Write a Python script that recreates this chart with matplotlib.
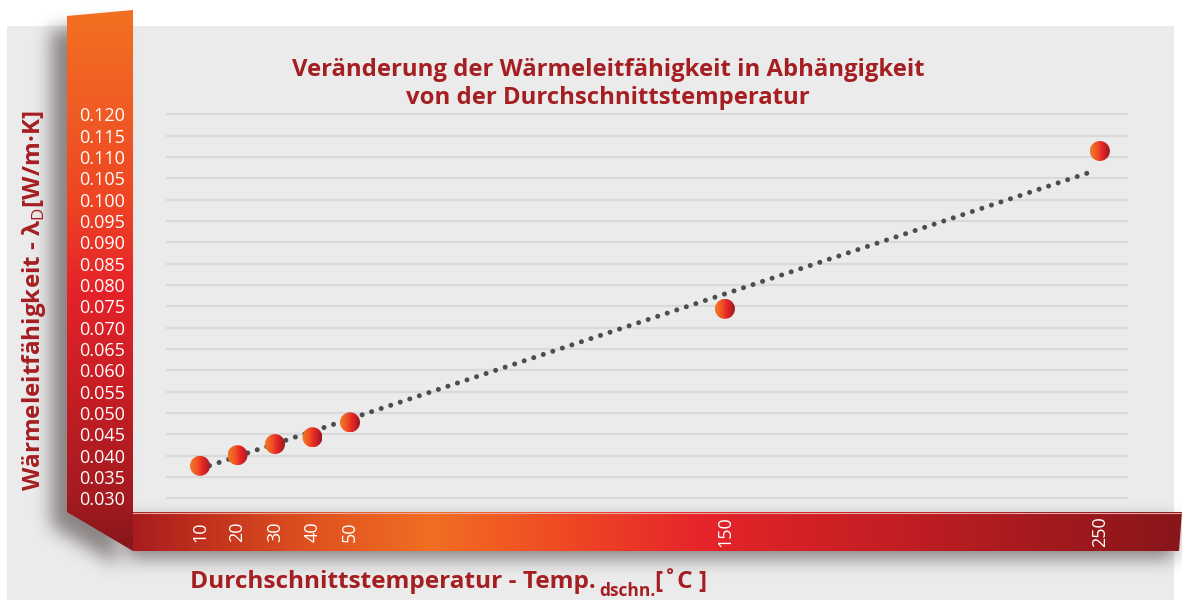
import matplotlib
matplotlib.use('Agg')
import matplotlib.pyplot as plt
import numpy as np
from matplotlib.patches import Polygon, Rectangle, Ellipse
from matplotlib.path import Path
from matplotlib.colors import LinearSegmentedColormap, to_rgb

# ── data ─────────────────────────────────────────────────────────────────
temps    = [10, 20, 30, 40, 50, 150, 250]
lambda_d = [0.0376, 0.0401, 0.0427, 0.0443, 0.0478, 0.0744, 0.1114]

# dotted trend line, start / end as drawn in the picture
trend_x = [10, 248]
trend_y = [0.0369, 0.1066]

y_ticks = [0.030, 0.035, 0.040, 0.045, 0.050, 0.055, 0.060, 0.065, 0.070,
           0.075, 0.080, 0.085, 0.090, 0.095, 0.100, 0.105, 0.110, 0.115, 0.120]
y_tick_labels = ['0.030', '0.035', '0.040', '0.045', '0.050', '0.055', '0.060',
                 '0.065', '0.070', '0.075', '0.080', '0.085', '0.090', '0.095',
                 '0.100', '0.105', '0.110', '0.115', '0.120']
x_ticks = [10, 20, 30, 40, 50, 150, 250]
x_tick_labels = ['10', '20', '30', '40', '50', '150', '250']

title_1 = 'Veränderung der Wärmeleitfähigkeit in Abhängigkeit'
title_2 = 'von der Durchschnittstemperatur'
y_label = 'Wärmeleitfähigkeit - λ$_{\\mathrm{D}}$[W/m·K]'
x_label_main = 'Durchschnittstemperatur - Temp.'
x_label_sub = 'dschn.'
x_label_unit = '[˚C ]'

DARK_RED = '#A51E22'

plt.rcParams['font.family'] = ['Open Sans', 'DejaVu Sans']
plt.rcParams['mathtext.fontset'] = 'custom'
plt.rcParams['mathtext.rm'] = 'Open Sans'
plt.rcParams['mathtext.bf'] = 'Open Sans:bold'

W, H, DPI = 1182, 600, 100
fig = plt.figure(figsize=(W / DPI, H / DPI), dpi=DPI)
fig.patch.set_facecolor('white')

# background axes in pixel coordinates (y down)
bg = fig.add_axes([0, 0, 1, 1], zorder=0)
bg.set_xlim(0, W)
bg.set_ylim(H, 0)
bg.axis('off')

# ── helpers ──────────────────────────────────────────────────────────────

def grad_poly(verts, stops, vertical=True, z=3):
    xs = [v[0] for v in verts]
    ys = [v[1] for v in verts]
    cmap = LinearSegmentedColormap.from_list('g', stops)
    g = np.linspace(0, 1, 512)
    img = g[:, None] if vertical else g[None, :]
    im = bg.imshow(img, cmap=cmap, extent=(min(xs), max(xs), max(ys), min(ys)),
                   aspect='auto', zorder=z, interpolation='bilinear')
    im.set_clip_path(Polygon(verts, closed=True, transform=bg.transData))


def box_blur(a, r):
    k = 2 * r + 1
    p = np.pad(a, ((0, 0), (r + 1, r)), mode='edge')
    c = np.cumsum(p, axis=1)
    a = (c[:, k:] - c[:, :-k]) / k
    p = np.pad(a, ((r + 1, r), (0, 0)), mode='edge')
    c = np.cumsum(p, axis=0)
    return (c[k:, :] - c[:-k, :]) / k

# ═══════════════════════════════════════════════════════════════════════
# 1. PANEL + SHADOW
# ═══════════════════════════════════════════════════════════════════════
bg.add_patch(Rectangle((7, 26), 1167, H - 26, fc='#EBEBEB', ec='none', zorder=1))

ybar = [(67, 16), (133, 10), (133, 551), (67, 512)]
xbar = [(133, 512), (1182, 512), (1179, 551), (133, 551)]

yy, xx = np.mgrid[0:H, 0:W]
pts = np.column_stack([xx.ravel() + 0.5, yy.ravel() + 0.5])
sh1 = Path([(x - 16, y + 14) for x, y in ybar]).contains_points(pts)
sh2 = Path([(x - 6, y + 8) for x, y in xbar]).contains_points(pts)
mask = (sh1 | sh2).reshape(H, W).astype(float)
for _ in range(3):
    mask = box_blur(mask, 8)
shadow = np.zeros((H, W, 4))
shadow[..., :3] = to_rgb('#4A3F40')
shadow[..., 3] = mask * 0.6
bg.imshow(shadow, extent=(0, W, H, 0), aspect='auto', zorder=2, interpolation='bilinear')

# ═══════════════════════════════════════════════════════════════════════
# 2. AXIS BARS (gradient ribbons)
# ═══════════════════════════════════════════════════════════════════════
grad_poly(ybar, [(0.0, '#F37021'), (0.2, '#F05A24'), (0.35, '#EE4523'),
                 (0.52, '#E5222A'), (0.72, '#C41E24'), (0.9, '#A41B20'),
                 (1.0, '#86161A')], vertical=True, z=3)
grad_poly(xbar, [(0.0, '#A81C1F'), (0.064, '#C0301D'), (0.16, '#DD4F20'),
                 (0.283, '#F26E22'), (0.407, '#EF4A24'), (0.54, '#E6252A'),
                 (0.73, '#C21E23'), (1.0, '#88161A')], vertical=False, z=3)
bg.plot([133, 1182], [512.5, 512.5], color='#E9A6A6', lw=0.8, zorder=4)

# ═══════════════════════════════════════════════════════════════════════
# 3. TEXTS
# ═══════════════════════════════════════════════════════════════════════
bg.text(608, 70, title_1, fontsize=17.2, fontweight='bold', color=DARK_RED,
        ha='center', va='center', zorder=6)
bg.text(608, 98, title_2, fontsize=17.2, fontweight='bold', color=DARK_RED,
        ha='center', va='center', zorder=6)
bg.text(34, 301, y_label, fontsize=17.5, fontweight='bold', color=DARK_RED,
        rotation=90, ha='center', va='center', zorder=6)

# x label in three pieces, subscript dropped well below the baseline
renderer = fig.canvas.get_renderer()
inv_bg = bg.transData.inverted()
t_main = bg.text(190, 588, x_label_main, fontsize=17.6, fontweight='bold',
                 color=DARK_RED, ha='left', va='baseline', zorder=6)
x_end = inv_bg.transform(t_main.get_window_extent(renderer).get_points())[1, 0]
t_sub = bg.text(x_end + 4, 596, x_label_sub, fontsize=12.5, fontweight='bold',
                color=DARK_RED, ha='left', va='baseline', zorder=6)
x_end = inv_bg.transform(t_sub.get_window_extent(renderer).get_points())[1, 0]
bg.text(x_end - 1, 588, x_label_unit, fontsize=17.6, fontweight='bold',
        color=DARK_RED, ha='left', va='baseline', zorder=6)

bg.set_xlim(0, W)
bg.set_ylim(H, 0)

# ═══════════════════════════════════════════════════════════════════════
# 4. DATA AXES
# ═══════════════════════════════════════════════════════════════════════
AX_L, AX_R, AX_T, AX_B = 166, 1128, 107.9, 506.8
ax = fig.add_axes([AX_L / W, (H - AX_B) / H, (AX_R - AX_L) / W, (AX_B - AX_T) / H],
                  zorder=2)
ax.patch.set_alpha(0)
XLIM = (0.93, 257.5)
YLIM = (0.028, 0.1215)
ax.set_xlim(*XLIM)
ax.set_ylim(*YLIM)
for s in ax.spines.values():
    s.set_visible(False)

ax.set_yticks(y_ticks)
ax.set_yticklabels(y_tick_labels)
ax.set_xticks(x_ticks)
ax.set_xticklabels(x_tick_labels, rotation=90, va='center')
ax.tick_params(axis='y', length=0, pad=29.5, labelcolor='white', labelsize=13)
ax.tick_params(axis='x', length=0, pad=18.2, labelcolor='white', labelsize=13)
ax.yaxis.grid(True, color='#D9D9D9', lw=1.6)
ax.xaxis.grid(False)
ax.set_axisbelow(True)

# dotted trend
ax.plot(trend_x, trend_y, color='#4D4D4D', lw=3.6, ls=(0, (0.01, 2.0)),
        dash_capstyle='round', zorder=3)

# gradient balls
ball_cmap = LinearSegmentedColormap.from_list('ball', [
    (0.0, '#F47A22'), (0.35, '#EF5324'), (0.6, '#E6262A'),
    (0.85, '#B81D22'), (1.0, '#981A1E')])
R = 10
inv = ax.transData.inverted()
for x, y in zip(temps, lambda_d):
    px, py = ax.transData.transform((x, y))
    x0, y0 = inv.transform((px - R, py - R))
    x1, y1 = inv.transform((px + R, py + R))
    im = ax.imshow(np.linspace(0, 1, 256)[None, :], cmap=ball_cmap,
                   extent=(x0, x1, y0, y1), aspect='auto', zorder=4,
                   interpolation='bilinear')
    im.set_clip_path(Ellipse((x, y), x1 - x0, y1 - y0, transform=ax.transData))

ax.set_xlim(*XLIM)
ax.set_ylim(*YLIM)
ax.set_aspect('auto')

plt.savefig('out.png', dpi=DPI, facecolor='white')
